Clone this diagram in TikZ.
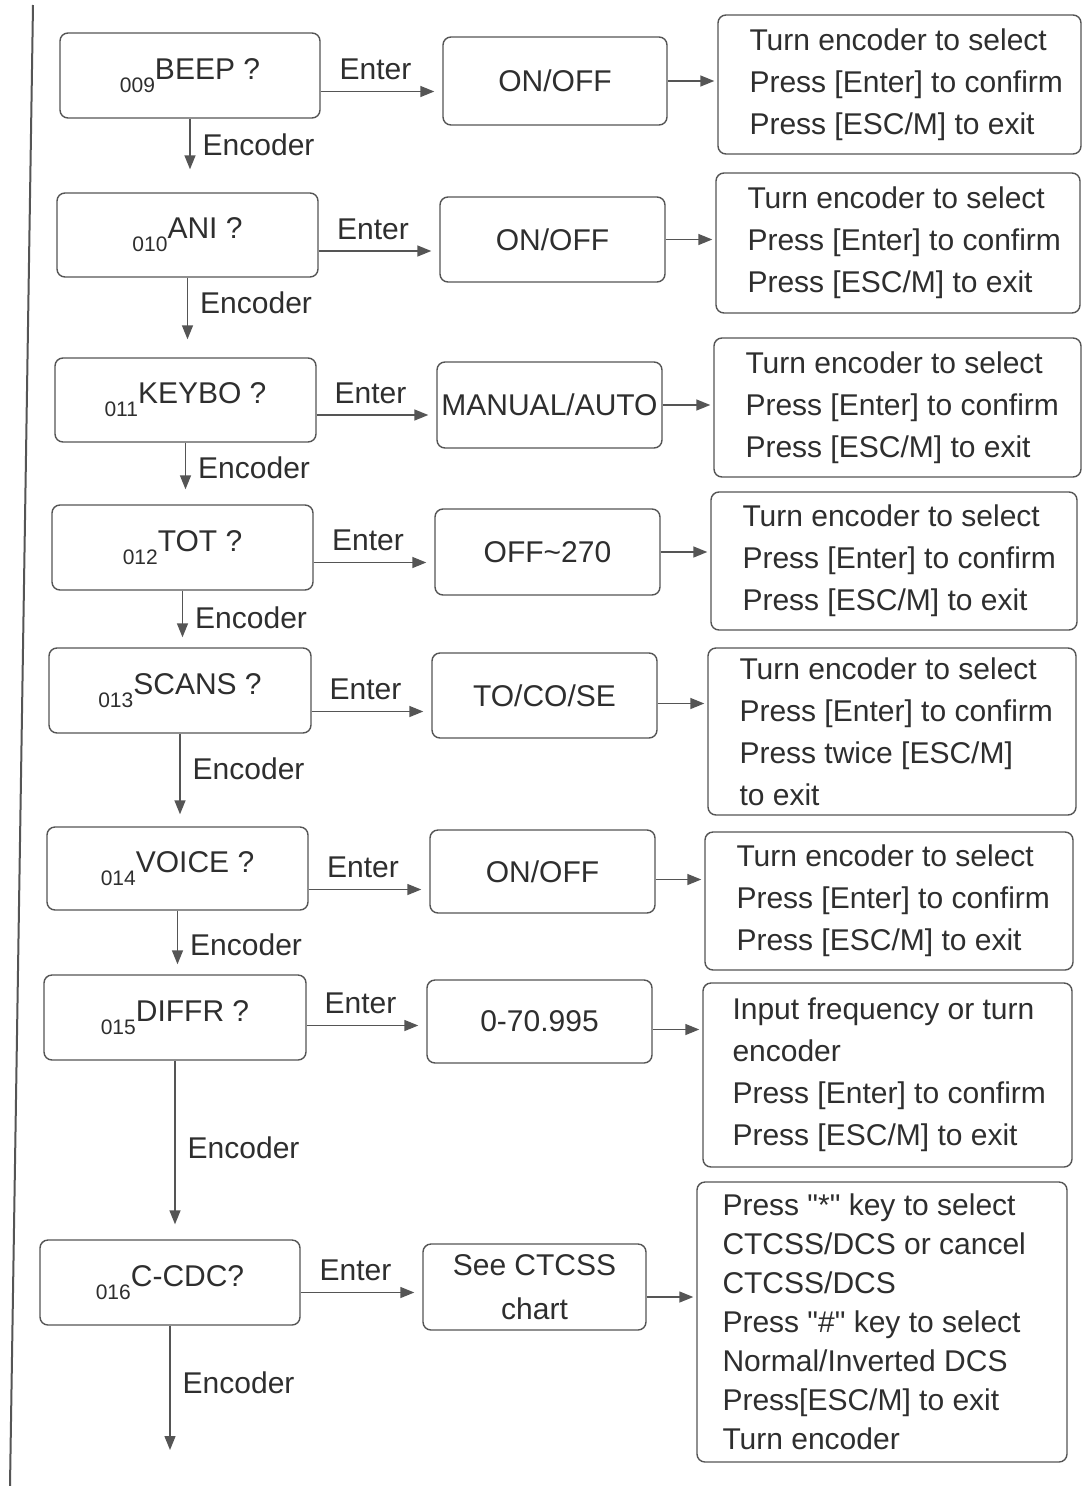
\documentclass[tikz,border=0pt]{standalone}
\usepackage{fontspec}
\setmainfont{Liberation Sans}[Ligatures=TeXOff]
\usetikzlibrary{arrows.meta}
\definecolor{ln}{HTML}{555555}
\definecolor{txt}{HTML}{2E2E2E}
\newcommand\subnum[1]{\raisebox{-13pt}{\fontsize{21}{21}\selectfont #1}}
\begin{document}
\begin{tikzpicture}[x=1pt,y=-1pt,
  every node/.style={font=\fontsize{30}{42}\selectfont, text=txt},
  box/.style={draw=ln, line width=1.4pt, rounded corners=8pt, inner sep=0pt},
  arr/.style={draw=ln, line width=1.4pt, -{Triangle[length=14pt,width=11pt]}},
  lbl/.style={inner sep=0pt},
  rtext/.style={anchor=west, align=left, inner sep=0pt},
]
\useasboundingbox (0,0) rectangle (1082,1486);
\fill[white] (0,0) rectangle (1082,1486);
\draw[ln, line width=2pt] (33,5) -- (10,1486);

% left boxes
\node[box, minimum width=260pt, minimum height=85pt] (l1) at (190,75.5) {\subnum{009}BEEP ?};
\node[box, minimum width=261pt, minimum height=84pt] (l2) at (187.5,235) {\subnum{010}ANI ?};
\node[box, minimum width=261pt, minimum height=84pt] (l3) at (185.5,400) {\subnum{011}KEYBO ?};
\node[box, minimum width=261pt, minimum height=85pt] (l4) at (182.5,547.5) {\subnum{012}TOT ?};
\node[box, minimum width=262pt, minimum height=85pt] (l5) at (180,690.5) {\subnum{013}SCANS ?};
\node[box, minimum width=261pt, minimum height=83pt] (l6) at (177.5,868.5) {\subnum{014}VOICE ?};
\node[box, minimum width=262pt, minimum height=85pt] (l7) at (175,1017.5) {\subnum{015}DIFFR ?};
\node[box, minimum width=260pt, minimum height=85pt] (l8) at (170,1282.5) {\subnum{016}C-CDC?};

% middle boxes
\node[box, minimum width=224pt, minimum height=88pt] (m1) at (555,81) {ON/OFF};
\node[box, minimum width=225pt, minimum height=85pt] (m2) at (552.5,239.5) {ON/OFF};
\node[box, minimum width=225pt, minimum height=86pt] (m3) at (549.5,405) {MANUAL/AUTO};
\node[box, minimum width=225pt, minimum height=86pt] (m4) at (547.5,552) {OFF\textasciitilde270};
\node[box, minimum width=225pt, minimum height=85pt] (m5) at (544.5,695.5) {TO/CO/SE};
\node[box, minimum width=225pt, minimum height=83pt] (m6) at (542.5,871.5) {ON/OFF};
\node[box, minimum width=225pt, minimum height=83pt] (m7) at (539.5,1021.5) {0-70.995};
\node[box, minimum width=223pt, minimum height=86pt, align=center, font=\fontsize{30}{44}\selectfont] (m8) at (534.5,1287) {See CTCSS\\chart};

% right boxes
\node[box, minimum width=363pt, minimum height=139pt] (r1) at (899.5,84.5) {};
\node[box, minimum width=364pt, minimum height=140pt] (r2) at (898,243) {};
\node[box, minimum width=367pt, minimum height=139pt] (r3) at (897.5,407.5) {};
\node[box, minimum width=366pt, minimum height=138pt] (r4) at (894,561) {};
\node[box, minimum width=368pt, minimum height=167pt] (r5) at (892,731.5) {};
\node[box, minimum width=368pt, minimum height=138pt] (r6) at (889,901) {};
\node[box, minimum width=369pt, minimum height=184pt] (r7) at (887.5,1075) {};
\node[box, minimum width=370pt, minimum height=280pt] (r8) at (882,1322) {};

\node[rtext] (t1) at ([xshift=32pt]r1.west) {Turn encoder to select\\Press [Enter] to confirm\\Press [ESC/M] to exit};
\node[rtext] (t2) at ([xshift=32pt]r2.west) {Turn encoder to select\\Press [Enter] to confirm\\Press [ESC/M] to exit};
\node[rtext] (t3) at ([xshift=32pt]r3.west) {Turn encoder to select\\Press [Enter] to confirm\\Press [ESC/M] to exit};
\node[rtext] (t4) at ([xshift=32pt]r4.west) {Turn encoder to select\\Press [Enter] to confirm\\Press [ESC/M] to exit};
\node[rtext] (t5) at ([xshift=32pt]r5.west) {Turn encoder to select\\Press [Enter] to confirm\\Press twice [ESC/M]\\to exit};
\node[rtext] (t6) at ([xshift=32pt]r6.west) {Turn encoder to select\\Press [Enter] to confirm\\Press [ESC/M] to exit};
\node[rtext] (t7) at ([xshift=30pt]r7.west) {Input frequency or turn\\encoder\\Press [Enter] to confirm\\Press [ESC/M] to exit};
\node[rtext, font=\fontsize{30}{39}\selectfont] (t8) at ([xshift=26pt]r8.west) {Press "*" key to select\\CTCSS/DCS or cancel\\CTCSS/DCS\\Press "\#" key to select\\Normal/Inverted DCS\\Press[ESC/M] to exit\\Turn encoder};

% Enter arrows
\foreach \i/\o in {1/16,2/16,3/15,4/15,5/21,6/21,7/8,8/10}{
  \path ([yshift=-\o pt]l\i.east) coordinate (e\i);
  \draw[arr, shorten >=8pt] (e\i) -- (e\i -| m\i.west) node[pos=0.45, above=11pt, lbl] {Enter};
}
% middle to right arrows
\foreach \i/\o in {1/0,2/0,3/0,4/0,5/8,6/8,7/8,8/10}{
  \path ([yshift=-\o pt]m\i.east) coordinate (f\i);
  \draw[arr, shorten >=3pt] (f\i) -- (f\i -| r\i.west);
}
% Encoder arrows
\coordinate (endA) at (170,1450);
\draw[arr, shorten >=23pt] (l1.south) -- (l1.south |- l2.north) node[pos=0.36, right=12pt, lbl] {Encoder};
\draw[arr, shorten >=18pt] (l2.south) -- (l2.south |- l3.north) node[pos=0.32, right=12pt, lbl] {Encoder};
\draw[arr, shorten >=15pt] (l3.south) -- (l3.south |- l4.north) node[pos=0.41, right=12pt, lbl] {Encoder};
\draw[arr, shorten >=10pt] (l4.south) -- (l4.south |- l5.north) node[pos=0.48, right=12pt, lbl] {Encoder};
\draw[arr, shorten >=12pt] (l5.south) -- (l5.south |- l6.north) node[pos=0.38, right=12pt, lbl] {Encoder};
\draw[arr, shorten >=10pt] (l6.south) -- (l6.south |- l7.north) node[pos=0.54, right=12pt, lbl] {Encoder};
\draw[arr, shorten >=15pt] (l7.south) -- (l7.south |- l8.north) node[pos=0.49, right=12pt, lbl] {Encoder};
\draw[arr] (l8.south) -- (l8.south |- endA) node[pos=0.46, right=12pt, lbl] {Encoder};
\end{tikzpicture}
\end{document}
